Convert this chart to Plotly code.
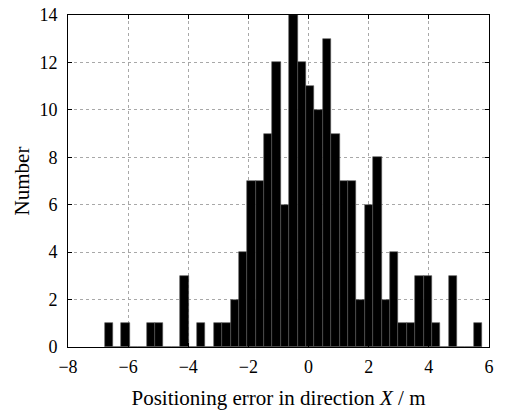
import plotly.graph_objects as go

# Histogram data
bin_start = -6.78
bin_width = 0.279
counts = [1, 0, 1, 0, 0, 1, 1, 0, 0, 3, 0, 1, 0, 1, 1, 2, 4, 7, 7, 9,
          12, 6, 14, 12, 11, 10, 13, 9, 7, 7, 2, 6, 8, 2, 4, 1, 1, 3, 3, 1,
          0, 3, 0, 0, 1]
x_ticks = [-8, -6, -4, -2, 0, 2, 4, 6]
y_ticks = [0, 2, 4, 6, 8, 10, 12, 14]

centers = [bin_start + bin_width * (i + 0.5) for i in range(len(counts))]

font = "Times New Roman"

fig = go.Figure(go.Bar(
    x=centers, y=counts, width=[bin_width] * len(counts),
    marker=dict(color="black", line=dict(width=0.6, color="#555555")),
))

axis_common = dict(
    showline=True, linecolor="black", linewidth=1, mirror="ticks",
    ticks="inside", ticklen=4, tickcolor="black",
    showgrid=True, gridcolor="#a8a8a8", griddash="dot", gridwidth=1,
    zeroline=False, automargin=False,
)

fig.update_layout(
    width=513, height=418,
    margin=dict(l=68, r=24, t=15, b=71),
    plot_bgcolor="white", paper_bgcolor="white",
    font=dict(family=font, color="black", size=18),
    showlegend=False, bargap=0,
    xaxis=dict(range=[-8, 6], tickvals=x_ticks,
               ticktext=[str(v).replace("-", "\u2212") for v in x_ticks],
               ticklabelstandoff=3,
               title=dict(text="Positioning error in direction <i>X</i> / m",
                          font=dict(family=font, size=21, color="black"),
                          standoff=14),
               **axis_common),
    yaxis=dict(range=[0, 14], tickvals=y_ticks,
               ticklabelstandoff=6,
               title=dict(text="Number",
                          font=dict(family=font, size=21, color="black"),
                          standoff=4),
               **axis_common),
)
fig.update_xaxes(tickfont=dict(family=font, size=18, color="black"))
fig.update_yaxes(tickfont=dict(family=font, size=18, color="black"))

fig.write_html("out.html")
